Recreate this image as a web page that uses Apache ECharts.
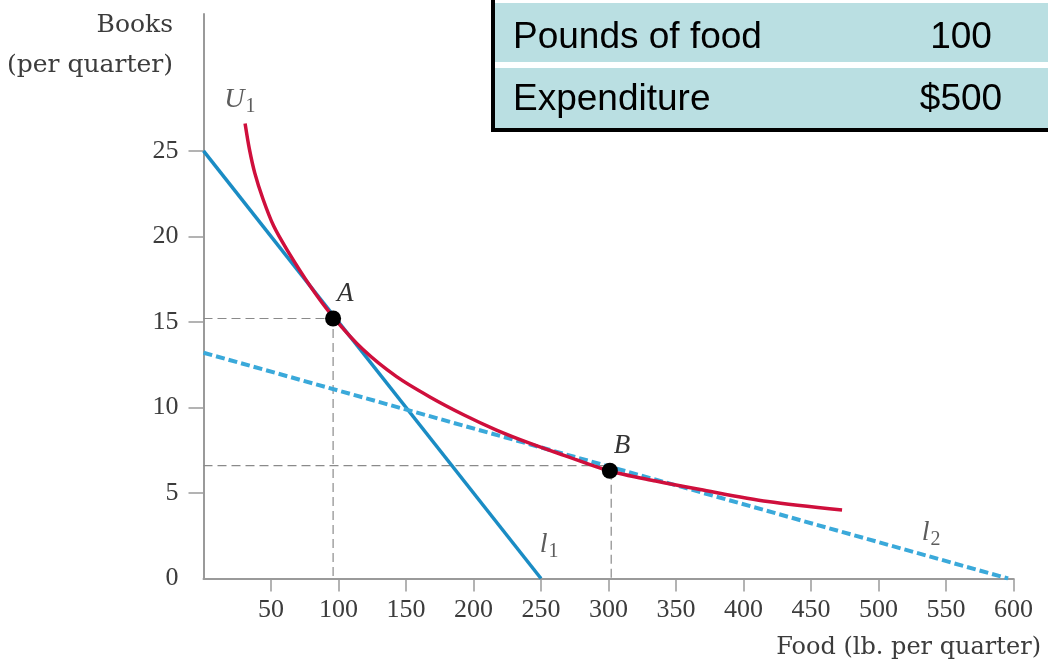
<!DOCTYPE html>
<html>
<head>
<meta charset="utf-8">
<title>Books and food</title>
<script src="https://cdn.jsdelivr.net/npm/echarts@6/dist/echarts.min.js"></script>
<style>
    html, body { margin: 0; padding: 0; background: #fff; }
    #chart { width: 1048px; height: 663px; }
</style>
</head>
<body>
<div id="chart"></div>
<script>
/* ---------- data ---------- */
var xTicks = [50, 100, 150, 200, 250, 300, 350, 400, 450, 500, 550, 600];
var yLabels = [0, 5, 10, 15, 20, 25];
var yTicks = [5, 10, 15, 20, 25];

// budget lines
var l1 = [[0, 25], [250, 0]];
var l2 = [[0, 13.2], [596, 0]];

// indifference curve U1
var uFood = [30.8, 34, 38, 44, 52, 62, 79, 96, 118, 143, 168, 193, 217, 242, 267, 300, 335, 368, 418, 473];
var uBooks = [26.6, 25.1, 23.7, 22.2, 20.6, 19.2, 17.1, 15.3, 13.4, 11.8, 10.6, 9.56, 8.68, 7.9, 7.2, 6.3, 5.7, 5.2, 4.5, 4.0];

// points A and B
var pointNames = ['A', 'B'];
var pointFood = [96, 301];
var pointBooks = [15.2, 6.3];

// guide lines (dashed grey)
var guideA = [[0, 15.2], [96, 15.2], [96, 0]];
var guideB = [[0, 6.6], [304, 6.6]];
var guideB2 = [[302, 6.3], [302, 0]];

// table
var tableRows = [['Pounds of food', '100'], ['Expenditure', '$500']];

var chart = echarts.init(document.getElementById('chart'));

var serif = 'Liberation Serif';
var nameFont = '"DejaVu Serif", serif';
var grey = '#9a9a9a';

var uData = uFood.map(function (x, i) { return [x, uBooks[i]]; });
var ptData = pointNames.map(function (n, i) { return { name: n, value: [pointFood[i], pointBooks[i]] }; });

var curveLabels = [
    { name: 'U', sub: '1', value: [27, 28] },
    { name: 'l', sub: '1', value: [256, 2.0] },
    { name: 'l', sub: '2', value: [539, 2.7] }
];

var guideStyle = { color: '#8a8a8a', width: 1.2, type: [9, 5] };

function guide(d) {
    return {
        type: 'line', data: d, symbol: 'none', silent: true,
        lineStyle: guideStyle, z: 1
    };
}

// table graphics
var tableGraphic = [
    { type: 'rect', shape: { x: 491, y: 0, width: 557, height: 132 }, style: { fill: '#000' } },
    { type: 'rect', shape: { x: 495, y: 0, width: 553, height: 128 }, style: { fill: '#fff' } },
    { type: 'rect', shape: { x: 495, y: 3, width: 553, height: 59 }, style: { fill: '#badfe2' } },
    { type: 'rect', shape: { x: 495, y: 68, width: 553, height: 60 }, style: { fill: '#badfe2' } }
];
tableRows.forEach(function (row, i) {
    var cy = 38 + i * 62;
    tableGraphic.push({
        type: 'text', x: 513, y: cy,
        style: { text: row[0], font: '37px "Liberation Sans", Arial, sans-serif', fill: '#000', verticalAlign: 'middle' }
    });
    tableGraphic.push({
        type: 'text', x: 961, y: cy,
        style: { text: row[1], font: '37px "Liberation Sans", Arial, sans-serif', fill: '#000', align: 'center', verticalAlign: 'middle' }
    });
});

var option = {
    animation: false,
    backgroundColor: '#fff',
    grid: { left: 203.5, right: 34.5, top: 14, bottom: 84.5 },
    xAxis: {
        type: 'value', min: 0, max: 600, interval: 50,
        splitLine: { show: false },
        axisLine: { onZero: false, lineStyle: { color: grey, width: 2 } },
        axisTick: { length: 13, lineStyle: { color: grey, width: 1.5 }, customValues: xTicks },
        axisLabel: { customValues: xTicks, color: '#3c3c3c', fontFamily: serif, fontSize: 26, margin: 19 }
    },
    yAxis: {
        type: 'value', min: 0, max: 33, interval: 5,
        splitLine: { show: false },
        axisLine: { onZero: false, lineStyle: { color: grey, width: 2 } },
        axisTick: { length: 15, lineStyle: { color: grey, width: 1.5 }, customValues: yTicks },
        axisLabel: { customValues: yLabels, color: '#3c3c3c', fontFamily: serif, fontSize: 26, margin: 25 }
    },
    graphic: tableGraphic.concat([
        {
            type: 'text', x: 173, y: 25,
            style: { text: 'Books', font: '25px ' + nameFont, fill: '#3c3c3c', align: 'right', verticalAlign: 'middle' }
        },
        {
            type: 'text', x: 173, y: 65,
            style: { text: '(per quarter)', font: '25px ' + nameFont, fill: '#3c3c3c', align: 'right', verticalAlign: 'middle' }
        },
        {
            type: 'text', x: 1041, y: 648,
            style: { text: 'Food (lb. per quarter)', font: '24px ' + nameFont, fill: '#3c3c3c', align: 'right', verticalAlign: 'middle' }
        }
    ]),
    series: [
        guide(guideA),
        guide(guideB),
        guide(guideB2),
        {
            name: 'l1', type: 'line', data: l1, symbol: 'none', z: 3,
            lineStyle: { color: '#1a8cc4', width: 3.5 }
        },
        {
            name: 'l2', type: 'line', data: l2, symbol: 'none', z: 3,
            lineStyle: { color: '#3aa9da', width: 4, type: [9, 4] }
        },
        {
            name: 'U1', type: 'line', data: uData, symbol: 'none', smooth: 0.3, z: 4,
            lineStyle: { color: '#cf0f3c', width: 3.5 }
        },
        {
            name: 'points', type: 'scatter', data: ptData, symbolSize: 16, z: 5,
            itemStyle: { color: '#000', opacity: 1 },
            label: {
                show: true, position: [12, -30], formatter: '{b}',
                fontFamily: serif, fontStyle: 'italic', fontSize: 27, color: '#333'
            }
        },
        {
            name: 'curveLabels', type: 'scatter', data: curveLabels, symbolSize: 0, z: 5,
            label: {
                show: true, position: 'inside',
                formatter: function (p) { return '{m|' + p.data.name + '}{s|' + p.data.sub + '}'; },
                rich: {
                    m: { fontFamily: serif, fontStyle: 'italic', fontSize: 28, color: '#333' },
                    s: { fontFamily: serif, fontSize: 20, color: '#333', padding: [14, 0, 0, 1] }
                }
            }
        }
    ]
};

chart.setOption(option);
</script>
</body>
</html>
